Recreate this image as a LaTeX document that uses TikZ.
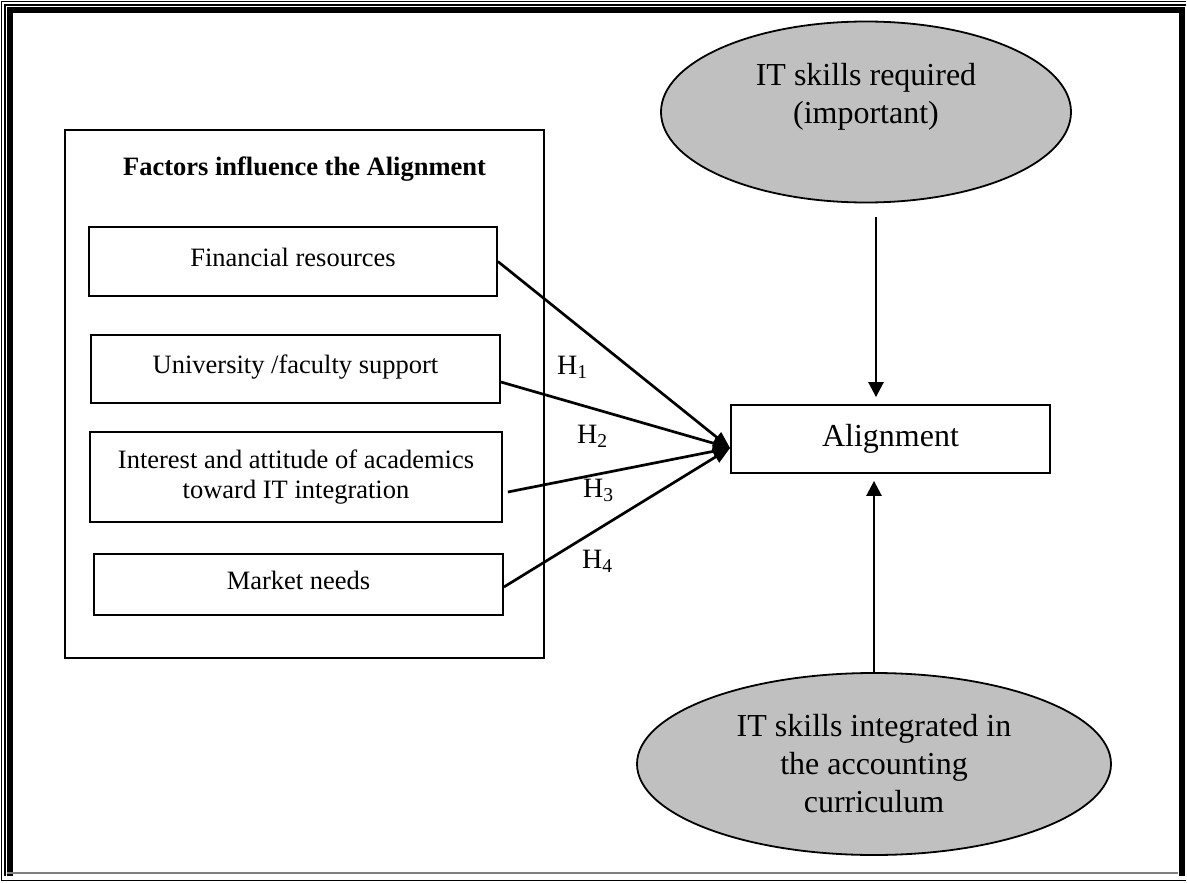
\documentclass[tikz,border=0pt]{standalone}
\usepackage{fontspec}
\setmainfont{Liberation Serif}
\usetikzlibrary{shapes.geometric,arrows.meta,calc}
\definecolor{ovalgray}{RGB}{192,192,192}
\begin{document}
\begin{tikzpicture}[x=1pt,y=-1pt,
  factorbox/.style={draw,line width=1.8pt,inner sep=0pt,align=center,
    font=\fontsize{26.5pt}{30pt}\selectfont},
  onetext/.style={text height=18pt,text depth=9pt},
  oval/.style={draw,ellipse,fill=ovalgray,line width=1.8pt,inner sep=0pt,align=center,
    font=\fontsize{32pt}{38pt}\selectfont},
  hlabel/.style={inner sep=0pt,anchor=base west,font=\fontsize{28pt}{32pt}\selectfont},
  conn/.style={line width=2.7pt,-{Triangle[length=17pt,width=13pt]}},
  varr/.style={line width=2.6pt,-{Triangle[length=15pt,width=15pt]}}
]
\useasboundingbox (0,0) rectangle (1187,883);
% page border
\draw[line width=1.2pt] (1.5,881) -- (1.5,1.5) -- (1185.5,1.5);
\draw[line width=1.2pt] (5,876) -- (5,5) -- (1185.5,5);
\draw[line width=6pt] (10,876) -- (10,10) -- (1181.5,10) -- (1181.5,876);
\draw[line width=1.2pt,gray] (7,873) -- (1178,873);
\draw[line width=1.2pt] (1.5,880.5) -- (1185.5,880.5);

% left group
\node[draw,line width=1.8pt,minimum width=479pt,minimum height=528pt,inner sep=0pt] (factors) at (304.5,394) {};
\node[inner sep=0pt,anchor=base,font=\fontsize{26.5pt}{30pt}\selectfont\bfseries] (title) at (304.5,175) {Factors influence the Alignment};

\node[factorbox,onetext,minimum width=408pt,minimum height=69pt] (fin) at (293,261.5) {Financial resources};
\node[factorbox,onetext,minimum width=409pt,minimum height=68pt] (univ) at (295.5,369) {University /faculty support};
\node[factorbox,minimum width=412pt,minimum height=90pt] (inter) at (296,477) {Interest and attitude of academics\\toward IT integration};
\node[factorbox,onetext,minimum width=409pt,minimum height=61pt] (market) at (298.5,584.5) {Market needs};

% alignment
\node[draw,line width=1.8pt,minimum width=319pt,minimum height=68pt,inner sep=0pt,
  font=\fontsize{32pt}{38pt}\selectfont] (algn) at (890.5,439) {Alignment};

% ovals
\node[oval,minimum width=410pt,minimum height=181pt] (req) at (866,112) {IT skills required\\(important)\\\mbox{}};
\node[oval,minimum width=474pt,minimum height=182pt] (integ) at (874,764) {IT skills integrated in\\the accounting\\curriculum};

% converging connectors
\coordinate (hub) at ([yshift=-9pt]algn.west);
\draw[conn] (fin.east) -- (hub);
\draw[conn] ([yshift=-13pt]univ.east) -- (hub);
\draw[conn] ([xshift=5pt,yshift=-15pt]inter.east) -- (hub);
\draw[conn] ([yshift=-2.5pt]market.east) -- (hub);

% vertical arrows
\coordinate (reqout) at (876,217);
\draw[varr] (reqout) -- ([yshift=7pt]reqout |- algn.north);
\draw[varr] (integ.north) -- ([yshift=-7pt]integ.north |- algn.south);

% hypothesis labels
\node[hlabel] (h1) at (557,374) {H\textsubscript{1}};
\node[hlabel] (h2) at (577,443) {H\textsubscript{2}};
\node[hlabel] (h3) at (583,497) {H\textsubscript{3}};
\node[hlabel] (h4) at (582,568) {H\textsubscript{4}};
\end{tikzpicture}
\end{document}
